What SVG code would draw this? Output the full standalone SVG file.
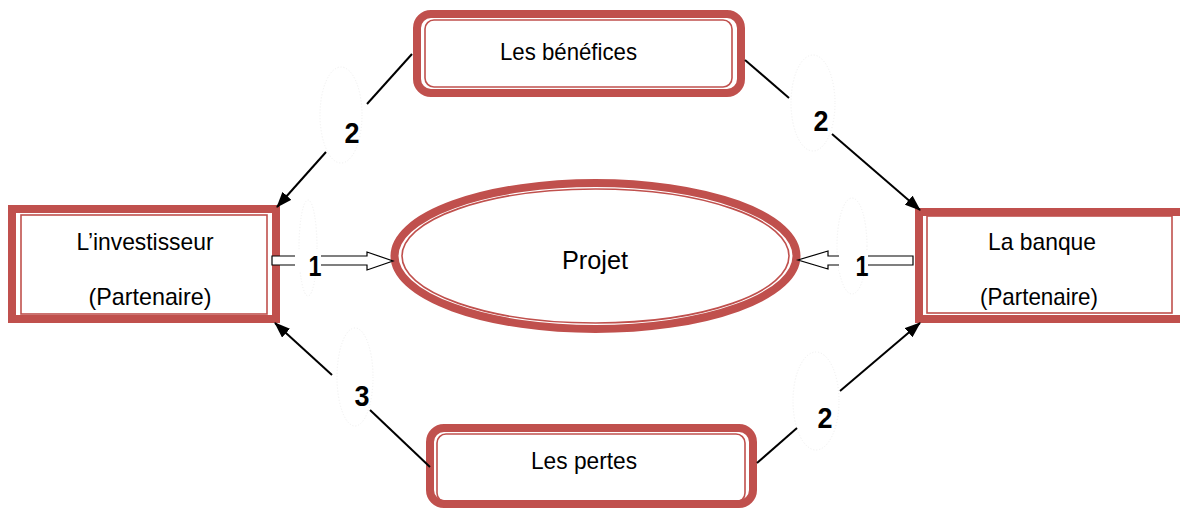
<svg xmlns="http://www.w3.org/2000/svg" width="1180" height="509" viewBox="0 0 1180 509">
<style>
.thick{fill:#fff;stroke:#C0504D;stroke-width:8}
.thin{fill:none;stroke:#C0504D;stroke-width:1.6}
.t{font-family:"Liberation Sans",Arial,sans-serif;font-size:24px;fill:#000;text-anchor:middle}
.num{font-family:"Liberation Sans",Arial,sans-serif;font-size:30px;font-weight:bold;fill:#000;text-anchor:middle}
.ln{stroke:#000;stroke-width:2;fill:none}
.faint{fill:none;stroke:#eeeeee;stroke-width:1;stroke-dasharray:1 2}
.hollow{fill:#fff;stroke:#000;stroke-width:1.2}
</style>
<defs>
<marker id="ah" markerUnits="userSpaceOnUse" markerWidth="16" markerHeight="12" refX="15" refY="6" orient="auto">
<path d="M0,0 L16,6 L0,12 z" fill="#000"/>
</marker>
</defs>
<rect width="1180" height="509" fill="#fff"/>

<g id="benefices">
<rect class="thick" x="417" y="14" width="324" height="79" rx="14"/>
<rect class="thin" x="425" y="20" width="307" height="67" rx="9"/>
<text class="t" x="568.5" y="60" textLength="137" lengthAdjust="spacingAndGlyphs">Les bénéfices</text>
</g>

<g id="investisseur">
<rect class="thick" x="12" y="209" width="264" height="110"/>
<rect class="thin" x="21" y="215" width="246" height="99"/>
<text class="t" x="145" y="250" textLength="137" lengthAdjust="spacingAndGlyphs">L’investisseur</text>
<text class="t" x="150" y="305" textLength="123" lengthAdjust="spacingAndGlyphs">(Partenaire)</text>
</g>

<g id="banque">
<rect class="thick" x="919" y="212" width="270" height="107"/>
<rect class="thin" x="927" y="216" width="245" height="97"/>
<text class="t" x="1042" y="250" textLength="108" lengthAdjust="spacingAndGlyphs">La  banque</text>
<text class="t" x="1039" y="305" textLength="118" lengthAdjust="spacingAndGlyphs">(Partenaire)</text>
</g>

<g id="projet">
<ellipse class="thick" cx="595.5" cy="256" rx="201" ry="73"/>
<ellipse class="thin" cx="595.5" cy="256" rx="193.5" ry="67"/>
<text class="t" x="595" y="269" style="font-size:25px" textLength="66" lengthAdjust="spacingAndGlyphs">Projet</text>
</g>

<g id="pertes">
<rect class="thick" x="430" y="428" width="323" height="76" rx="14"/>
<rect class="thin" x="437" y="434" width="308" height="68" rx="9"/>
<text class="t" x="584" y="469" textLength="106" lengthAdjust="spacingAndGlyphs">Les  pertes</text>
</g>

<g id="connectors">
<ellipse class="faint" cx="341" cy="115" rx="21" ry="48"/>
<ellipse class="faint" cx="813" cy="103" rx="22" ry="48"/>
<ellipse class="faint" cx="308" cy="248" rx="9" ry="48"/>
<ellipse class="faint" cx="852" cy="246" rx="15" ry="48"/>
<ellipse class="faint" cx="355" cy="377" rx="18" ry="49"/>
<ellipse class="faint" cx="816" cy="401" rx="23" ry="49"/>

<line class="ln" x1="412" y1="54" x2="367" y2="104"/>
<line class="ln" x1="326" y1="152" x2="277" y2="207" marker-end="url(#ah)"/>
<line class="ln" x1="745" y1="60" x2="789" y2="98"/>
<line class="ln" x1="832" y1="134" x2="920" y2="210" marker-end="url(#ah)"/>
<line class="ln" x1="430" y1="467" x2="370" y2="410"/>
<line class="ln" x1="332" y1="375" x2="275" y2="323" marker-end="url(#ah)"/>
<line class="ln" x1="757" y1="463" x2="797" y2="428"/>
<line class="ln" x1="840" y1="391" x2="920" y2="323" marker-end="url(#ah)"/>

<polygon class="hollow" points="272,256 367,256 367,252 393,261 367,270 367,265 272,265"/>
<rect x="295" y="250" width="26" height="22" fill="#fff"/>
<polygon class="hollow" points="913,256 828,256 828,251 798,260 828,269 828,265 913,265"/>
<rect x="839" y="250" width="29" height="22" fill="#fff"/>

<text class="num" x="352" y="143" textLength="15" lengthAdjust="spacingAndGlyphs">2</text>
<text class="num" x="821" y="131" textLength="15" lengthAdjust="spacingAndGlyphs">2</text>
<text class="num" x="362" y="406" textLength="15" lengthAdjust="spacingAndGlyphs">3</text>
<text class="num" x="825" y="428" textLength="15" lengthAdjust="spacingAndGlyphs">2</text>
<text class="num" x="315" y="276" textLength="13" lengthAdjust="spacingAndGlyphs">1</text>
<text class="num" x="862" y="276" textLength="13" lengthAdjust="spacingAndGlyphs">1</text>
</g>
</svg>
